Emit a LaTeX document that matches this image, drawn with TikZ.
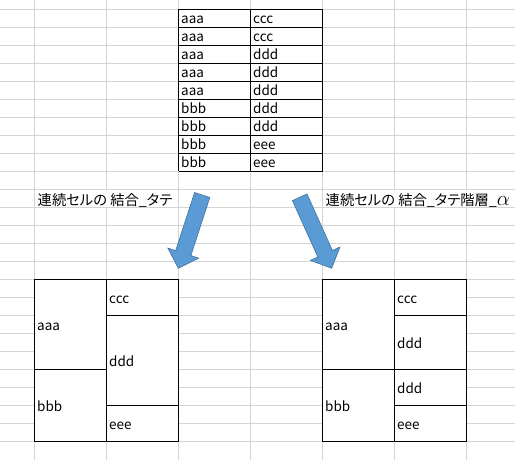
\documentclass[tikz,border=0pt]{standalone}
\usepackage{fontspec}
\setmainfont{Noto Sans CJK JP}[RawFeature=+palt]
\usetikzlibrary{calc}
\definecolor{gridgray}{HTML}{D4D4D4}
\definecolor{arrowfill}{HTML}{5B9BD5}
\definecolor{arrowline}{HTML}{41719C}
\newcommand{\cellfont}{\fontsize{13.5}{15}\selectfont}
\newcommand{\labfont}{\fontsize{14.3}{16}\selectfont}
\tikzset{
  gridline/.style={gridgray, line width=1pt},
  tableline/.style={black, line width=1pt},
  celltext/.style={anchor=base west, inner sep=0pt, font=\cellfont},
  arrowshape/.style={fill=arrowfill, draw=arrowline, line width=0.6pt, line join=miter},
}
\begin{document}
\begin{tikzpicture}[x=1pt, y=-1pt]
\useasboundingbox (0,0) rectangle (515,460);
\fill[white] (0,0) rectangle (515,460);
% spreadsheet grid
\foreach \k in {0,...,24} \draw[gridline] (0,{9.5+18*\k}) -- (515,{9.5+18*\k});
\foreach \c in {34.5,106.5,178.5,250.5,322.5,394.5,466.5} \draw[gridline] (\c,0) -- (\c,460);
% gridlines hidden behind overflowing labels
\fill[white] (100,190.2) rectangle (113,206.8);
\fill[white] (388,190.2) rectangle (401,206.8);
\fill[white] (460,190.2) rectangle (473,206.8);

% top table
\fill[white] (178.5,9.5) rectangle (322.5,171.5);
\foreach \r in {0,...,9} \draw[tableline] (178.5,{9.5+18*\r}) -- (322.5,{9.5+18*\r});
\foreach \c in {178.5,250.5,322.5} \draw[tableline] (\c,9.5) -- (\c,171.5);
\foreach \a/\b [count=\i from 1] in {aaa/ccc,aaa/ccc,aaa/ddd,aaa/ddd,aaa/ddd,bbb/ddd,bbb/ddd,bbb/eee,bbb/eee}{
  \node[celltext] (tl\i) at (181,{9.5+18*\i-3.8}) {\a};
  \node[celltext] (tr\i) at (253,{9.5+18*\i-3.8}) {\b};
}

% labels
\node[celltext, font=\labfont] (lab1) at (37.5,205) {連続セルの 結合\_タテ};
\node[celltext, font=\labfont] (lab2) at (325.5,205) {連続セルの 結合\_タテ階層\_\scalebox{1.45}{$\alpha$}};

% arrows
\coordinate (T1) at (202.2,195);
\coordinate (P1) at (178.3,268.3);
\coordinate (H1) at ($(P1)!16pt!(T1)$);
\draw[arrowshape] ($(T1)!8pt!90:(P1)$) -- ($(H1)!8pt!90:(P1)$) -- ($(H1)!16.2pt!90:(P1)$) -- (P1)
  -- ($(H1)!16.2pt!-90:(P1)$) -- ($(H1)!8pt!-90:(P1)$) -- ($(T1)!8pt!-90:(P1)$) -- cycle;
\coordinate (T2) at (299.7,197.3);
\coordinate (P2) at (331.7,268.3);
\coordinate (H2) at ($(P2)!16pt!(T2)$);
\draw[arrowshape] ($(T2)!8pt!90:(P2)$) -- ($(H2)!8pt!90:(P2)$) -- ($(H2)!16.2pt!90:(P2)$) -- (P2)
  -- ($(H2)!16.2pt!-90:(P2)$) -- ($(H2)!8pt!-90:(P2)$) -- ($(T2)!8pt!-90:(P2)$) -- cycle;

% bottom-left table
\fill[white] (34.5,279.5) rectangle (178.5,441.5);
\draw[tableline] (34.5,279.5) rectangle (178.5,441.5);
\draw[tableline] (106.5,279.5) -- (106.5,441.5);
\draw[tableline] (34.5,369.5) -- (106.5,369.5);
\draw[tableline] (106.5,315.5) -- (178.5,315.5);
\draw[tableline] (106.5,405.5) -- (178.5,405.5);
\node[celltext] (la) at (37,{324.5+5.5}) {aaa};
\node[celltext] (lb) at (37,{405.5+5.5}) {bbb};
\node[celltext] (lc) at (109,{297.5+5.5}) {ccc};
\node[celltext] (ld) at (109,{360.5+5.5}) {ddd};
\node[celltext] (le) at (109,{423.5+5.5}) {eee};

% bottom-right table
\fill[white] (322.5,279.5) rectangle (466.5,441.5);
\draw[tableline] (322.5,279.5) rectangle (466.5,441.5);
\draw[tableline] (394.5,279.5) -- (394.5,441.5);
\draw[tableline] (322.5,369.5) -- (466.5,369.5);
\draw[tableline] (394.5,315.5) -- (466.5,315.5);
\draw[tableline] (394.5,405.5) -- (466.5,405.5);
\node[celltext] (ra) at (325,{324.5+5.5}) {aaa};
\node[celltext] (rb) at (325,{405.5+5.5}) {bbb};
\node[celltext] (rc) at (397,{297.5+5.5}) {ccc};
\node[celltext] (rd1) at (397,{342.5+5.5}) {ddd};
\node[celltext] (rd2) at (397,{387.5+5.5}) {ddd};
\node[celltext] (re) at (397,{423.5+5.5}) {eee};
\end{tikzpicture}
\end{document}
